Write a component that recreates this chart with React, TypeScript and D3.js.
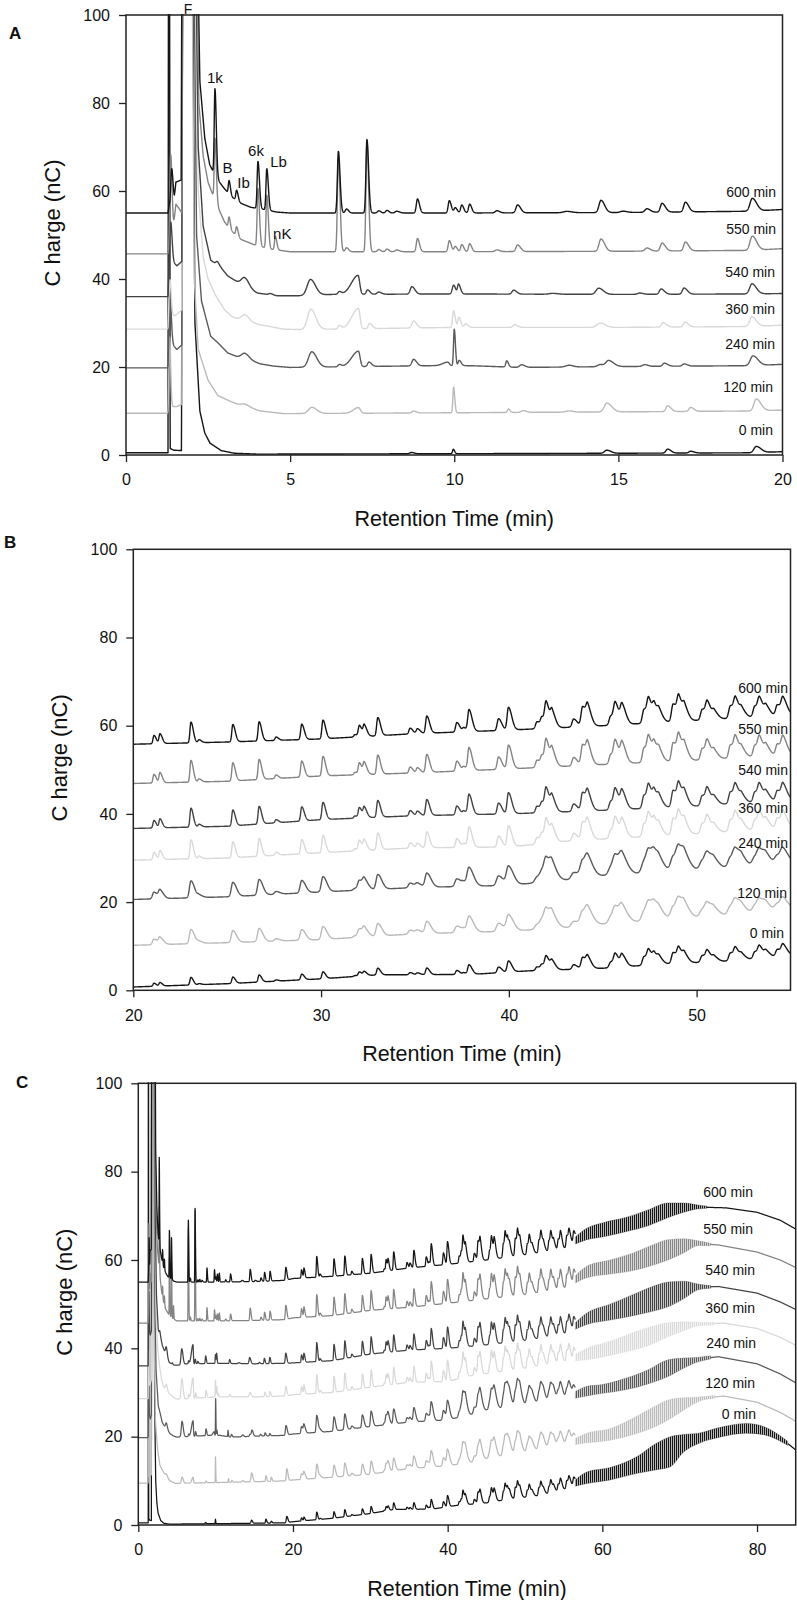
import React, { useEffect, useRef } from 'react';
import * as d3 from 'd3';

// run names (hydrolysis time) and their grey levels
const runNames = ['0 min', '120 min', '240 min', '360 min', '540 min', '550 min', '600 min'];
const runColors = ['#151515', '#bababa', '#5a5a5a', '#d9d9d9', '#424242', '#848484', '#151515'];

// baseline / broad shape of each run: [retention time (min), charge (nC)]
const base0 = [[0, 0.5], [1.28, 0.5], [1.295, 130], [1.325, 130], [1.345, 1.5], [1.45, 1.1], [1.69, 1], [1.73, 130], [2.02, 130], [2.1, 30], [2.25, 10], [2.4, 5], [2.56, 2.7], [2.9, 1.0], [3.3, 0.4], [4, 0.2], [10, 0.3], [15, 0.4], [19, 0.5], [20, 0.75], [25, 1.5], [30, 2.6], [33, 3.5], [38, 3.6], [41, 4.4], [45, 5], [48, 5.9], [52, 6.7], [55, 8], [58, 10.5], [62, 11.5], [66, 14], [68.8, 16.5], [72, 19.6], [75, 21], [78.6, 22], [81, 21.2], [83, 19.8], [85, 17]];
const base120 = [[0, 9.5], [1.28, 9.5], [1.31, 12], [1.42, 11], [1.55, 11], [1.7, 11.5], [1.73, 130], [2.0, 130], [2.08, 40], [2.2, 24], [2.5, 17], [2.8, 13.5], [3.24, 12], [3.6, 11], [4.1, 10], [4.8, 9.4], [10, 9.6], [15, 9.8], [19, 10], [20, 10.2], [25, 10.8], [30, 11.5], [35, 12.8], [40, 13.4], [43, 14.2], [45, 15], [50, 16.5], [55, 18], [58, 19.5], [62, 20.3], [66, 23.5], [68.5, 26], [72, 28.5], [75.7, 29.2], [80, 27.8], [83, 25.5], [85, 23.5]];
const base240 = [[0, 19.8], [1.28, 19.8], [1.31, 24], [1.42, 25], [1.55, 24], [1.7, 25], [1.73, 130], [2.05, 130], [2.15, 50], [2.3, 35], [2.58, 27], [2.8, 25.5], [3.1, 23.2], [3.4, 22.3], [3.9, 21.2], [4.1, 20.7], [4.5, 20.2], [5, 19.9], [9.3, 20.3], [10.5, 20.3], [12, 19.9], [15, 20.1], [19, 20.3], [20, 20.6], [25, 21.2], [30, 22.3], [35, 23.3], [40, 23.8], [43, 25], [45, 26], [50, 27.3], [55, 28.5], [58, 30], [62, 31.3], [66, 33.5], [68.5, 35.5], [72, 37.5], [75, 38.1], [80, 36.5], [83, 34.2], [85, 32.2]];
const base360 = [[0, 28.6], [1.28, 28.6], [1.31, 32], [1.42, 31.4], [1.55, 32], [1.7, 33], [1.73, 130], [2.1, 130], [2.2, 60], [2.35, 45], [2.5, 40], [2.72, 36.4], [3.0, 33], [3.24, 31.4], [3.6, 30.4], [4.1, 29.6], [4.8, 28.6], [5.3, 28.5], [10, 29], [15, 29], [19, 29.2], [20, 29.5], [25, 30], [30, 31.2], [35, 32.3], [40, 32.5], [43, 33.8], [45, 34.3], [50, 35.5], [55, 37], [58, 38.5], [62, 40], [66, 42.8], [68.5, 44.2], [72, 45.5], [75.7, 45.7], [80, 44.5], [83, 42.5], [85, 40.7]];
const base540 = [[0, 36], [1.28, 36], [1.31, 42], [1.42, 44], [1.55, 43], [1.7, 44], [1.73, 130], [2.1, 130], [2.2, 70], [2.35, 52], [2.58, 44.3], [2.9, 42.5], [3.1, 40.7], [3.4, 39.3], [3.8, 37.5], [4.0, 36.8], [4.6, 36.2], [5.3, 36.2], [6.3, 36.5], [10, 36.6], [15, 36.5], [19, 36.6], [20, 36.7], [25, 37.2], [30, 38.7], [35, 39.6], [40, 40], [45, 40.8], [50, 41.8], [55, 43.2], [58, 46.5], [62, 48.5], [66, 51], [68.5, 52], [72, 53.8], [75, 54], [80, 52.5], [83, 50.5], [85, 48.8]];
const base550 = [[0, 45.7], [1.28, 45.7], [1.32, 48], [1.45, 52], [1.52, 57], [1.62, 56], [1.7, 55], [1.73, 130], [2.12, 130], [2.22, 80], [2.35, 68], [2.5, 62], [2.6, 60], [2.85, 55.5], [3.0, 53], [3.2, 51], [3.5, 49], [3.9, 47.8], [4.4, 46.8], [5, 46.2], [10, 46.2], [15, 46.3], [19, 46.5], [20, 46.9], [25, 47.4], [30, 48.6], [35, 49.3], [40, 50.2], [45, 51.2], [50, 52.2], [55, 53.5], [58, 57.2], [62, 58.8], [66, 60.8], [68.5, 62.2], [72, 63.8], [75, 63.4], [80, 61.8], [83, 60], [85, 58.3]];
const base600 = [[0, 55], [1.28, 55], [1.32, 57], [1.47, 58], [1.52, 62], [1.68, 62.5], [1.71, 130], [2.15, 130], [2.25, 85], [2.4, 72], [2.55, 66], [2.65, 64.5], [2.85, 62], [3.0, 60.5], [3.25, 58.5], [3.5, 57.2], [3.8, 56.3], [4.2, 55.8], [4.6, 55.2], [5, 55], [10, 55], [15, 55.1], [19, 55.4], [20, 55.8], [25, 56.3], [30, 57], [35, 58.2], [40, 59], [45, 60], [50, 61.2], [55, 62.5], [58, 65.8], [62, 67.5], [66, 69.5], [68.5, 71.2], [72, 72], [76, 71.8], [80, 70.8], [83, 69], [85, 67]];

// resolved peaks of each run: [time, height above baseline, left width, right width]
const peaks0 = [[8.7, 0.3, 0.05, 0.08], [9.97, 1.0, 0.022, 0.04], [14.65, 0.7, 0.07, 0.12], [16.5, 0.9, 0.05, 0.1], [17.2, 0.4, 0.05, 0.1], [19.2, 1.4, 0.07, 0.14]];
const peaks120 = [[1.33, 15, 0.02, 0.03], [3.62, 0.6, 0.1, 0.15], [5.66, 1.4, 0.1, 0.15], [7.08, 1.3, 0.15, 0.06], [8.76, 0.4, 0.05, 0.09], [9.98, 5.8, 0.022, 0.035], [11.65, 0.8, 0.03, 0.05], [12.1, 0.4, 0.06, 0.1], [13.5, 0.3, 0.1, 0.12], [14.65, 2.0, 0.08, 0.15], [16.5, 1.3, 0.05, 0.1], [17.2, 0.9, 0.05, 0.1], [19.2, 2.7, 0.07, 0.14]];
const peaks240 = [[1.34, 12, 0.025, 0.04], [3.62, 1.3, 0.1, 0.13], [5.66, 3.5, 0.1, 0.15], [6.5, 0.5, 0.04, 0.06], [7.08, 3.5, 0.2, 0.05], [7.4, 1.0, 0.04, 0.08], [8.76, 1.5, 0.05, 0.09], [9.8, 0.8, 0.15, 0.05], [10.0, 8.3, 0.022, 0.035], [10.15, 1.2, 0.03, 0.06], [11.6, 1.4, 0.03, 0.05], [12.05, 0.6, 0.06, 0.1], [13.5, 0.4, 0.1, 0.12], [14.45, 0.5, 0.08, 0.1], [14.7, 1.4, 0.08, 0.15], [15.8, 0.4, 0.06, 0.1], [16.4, 0.7, 0.05, 0.1], [17.0, 0.5, 0.05, 0.1], [19.1, 2.2, 0.08, 0.15]];
const peaks360 = [[1.34, 8, 0.025, 0.04], [3.62, 1.5, 0.1, 0.13], [5.63, 4.6, 0.1, 0.15], [6.5, 0.8, 0.04, 0.06], [7.08, 4.6, 0.2, 0.05], [7.42, 1.2, 0.04, 0.08], [8.76, 1.6, 0.05, 0.09], [9.98, 3.8, 0.03, 0.05], [10.14, 2.3, 0.03, 0.06], [10.35, 0.8, 0.04, 0.07], [11.84, 0.6, 0.05, 0.09], [14.45, 1.0, 0.1, 0.15], [16.36, 1.0, 0.05, 0.1], [17.03, 1.1, 0.05, 0.1], [19.07, 2.2, 0.07, 0.13]];
const peaks540 = [[1.36, 10, 0.025, 0.04], [2.78, 0.8, 0.04, 0.06], [3.62, 2.0, 0.1, 0.13], [4.4, 0.3, 0.05, 0.07], [5.62, 3.6, 0.1, 0.15], [6.5, 0.6, 0.04, 0.06], [7.07, 4.3, 0.2, 0.05], [7.36, 1.0, 0.04, 0.07], [7.7, 0.5, 0.05, 0.08], [8.71, 1.7, 0.05, 0.09], [9.98, 2.0, 0.04, 0.06], [10.13, 2.2, 0.03, 0.06], [11.81, 0.9, 0.05, 0.09], [13.0, 0.2, 0.1, 0.15], [14.4, 1.4, 0.08, 0.14], [15.65, 0.3, 0.06, 0.1], [16.3, 1.2, 0.05, 0.1], [17.0, 1.4, 0.05, 0.1], [19.07, 2.3, 0.07, 0.13]];
const peaks550 = [[1.36, 19, 0.025, 0.04], [2.71, 14, 0.022, 0.04], [3.14, 2.5, 0.022, 0.04], [3.37, 2, 0.025, 0.045], [4.02, 13, 0.025, 0.045], [4.29, 12, 0.025, 0.045], [4.55, 3, 0.025, 0.045], [6.47, 21, 0.03, 0.05], [6.72, 0.9, 0.04, 0.06], [7.34, 25, 0.03, 0.05], [7.7, 0.5, 0.04, 0.06], [7.95, 0.6, 0.04, 0.06], [8.25, 0.4, 0.05, 0.08], [8.88, 3, 0.035, 0.06], [9.85, 2.5, 0.035, 0.06], [10.03, 1.2, 0.035, 0.06], [10.23, 1.6, 0.035, 0.06], [10.47, 1.8, 0.035, 0.06], [11.3, 0.4, 0.05, 0.08], [11.93, 1.5, 0.05, 0.09], [14.47, 2.8, 0.06, 0.11], [15.87, 0.7, 0.06, 0.1], [16.33, 1.8, 0.05, 0.1], [17.04, 2.0, 0.05, 0.1], [19.08, 3.2, 0.07, 0.13]];
const peaks600 = [[1.39, 7.6, 0.025, 0.04], [2.71, 19.5, 0.022, 0.04], [3.14, 3, 0.022, 0.04], [3.37, 2.3, 0.025, 0.045], [4.02, 10.7, 0.025, 0.045], [4.29, 9.4, 0.025, 0.045], [6.47, 14, 0.03, 0.05], [6.72, 0.9, 0.04, 0.06], [7.34, 16.7, 0.03, 0.05], [7.7, 0.5, 0.04, 0.06], [7.95, 0.6, 0.04, 0.06], [8.25, 0.4, 0.05, 0.08], [8.88, 3.2, 0.035, 0.06], [9.85, 2.8, 0.035, 0.06], [10.03, 1.2, 0.035, 0.06], [10.23, 1.8, 0.035, 0.06], [10.47, 2.0, 0.035, 0.06], [11.3, 0.5, 0.05, 0.08], [11.93, 1.8, 0.05, 0.09], [13.43, 0.3, 0.1, 0.15], [14.47, 2.8, 0.06, 0.11], [15.14, 0.3, 0.08, 0.12], [15.87, 0.8, 0.06, 0.1], [16.33, 2.0, 0.05, 0.1], [17.04, 2.2, 0.05, 0.1], [19.08, 2.9, 0.07, 0.13]];

// oligomer ladder seen in every run from 20 min on (heights as read on the 540 min run)
const ladderTimes = [21.1, 21.42, 23.07, 23.5, 25.3, 26.7, 27.6, 28.97, 30.1, 31.8, 32.04, 32.3, 33.02, 34.74, 35.13, 35.63, 37.23, 37.6, 37.88, 39.45, 39.98, 41.5, 41.77, 41.99, 42.3, 43.45, 43.93, 44.2, 45.43, 45.67, 46.03, 47.2, 47.45, 47.75, 48.0, 48.75, 49.05, 49.35, 50.3, 50.57, 50.93, 51.8, 52.07, 52.4, 53.1, 53.35, 53.7, 54.3, 54.6, 55.4, 55.7, 56.3];
const ladderHeights = [1.7, 2.0, 4.3, 0.6, 3.6, 4.0, 0.7, 3.2, 3.9, 0.5, 2.3, 2.2, 3.8, 1.2, 1.0, 3.6, 2.0, 0.8, 4.5, 2.5, 4.8, 1.5, 2.0, 4.8, 3.0, 1.7, 4.2, 3.4, 2.0, 4.0, 3.8, 3.0, 4.2, 3.0, 1.8, 3.8, 4.5, 2.5, 2.3, 3.2, 1.5, 2.7, 3.5, 1.5, 2.3, 3.2, 1.8, 2.3, 3.2, 2.5, 2.8, 2.5];
const ladderWidth = [[20, 0.05], [35, 0.06], [45, 0.085], [58, 0.09]];

// ladder amplitude of each run relative to the 540 min run: [time, factor]
const amp0 = [[20, 0.4], [35, 0.4], [45, 0.65], [58, 0.7]];
const amp120 = [[20, 0.75], [40, 0.75], [58, 0.7]];
const amp240 = [[20, 0.9], [58, 0.85]];
const amp360 = [[20, 1.0], [58, 1.0]];
const amp540 = [[20, 1.0], [58, 1.0]];
const amp550 = [[20, 1.15], [58, 1.1]];
const amp600 = [[20, 1.1], [58, 1.05]];
const widen = [1, 1.5, 1.5, 1, 1, 1, 1];

// unresolved dense region at the end of the gradient: [time, low, high]
const band0 = [[56.5, 8.8, 10.2], [58, 9.4, 12], [61, 10.2, 13], [64.5, 11.7, 15.5], [67, 12.5, 18.5], [68.8, 13.2, 20], [70.5, 16.5, 20.5], [72.5, 18.5, 20.8], [75, 19.8, 22], [78.6, 20.8, 23], [81, 20.4, 22.2], [84, 18, 18.9]];
const band120 = [[56.5, 18.2, 19.6], [58, 18.6, 20.8], [61, 19.2, 21.8], [64, 20.5, 24.2], [66.5, 22, 26.6], [68.5, 23.8, 28.3], [70.5, 26, 28.8], [72.5, 28, 29], [74.5, 28.7, 29.3]];
const band240 = [[56.5, 28.7, 30.2], [58, 29.2, 31.4], [60, 29.8, 31.8], [63, 30.6, 33.2], [66, 32, 35.2], [68.5, 33.6, 37.4], [70.5, 35.5, 37.8], [72.5, 37, 38], [74, 37.6, 38.3]];
const band360 = [[56.5, 37.2, 38.6], [58, 37.4, 40], [61, 38.4, 41.6], [64, 39.6, 43.6], [66.5, 41, 45], [68.5, 42.6, 45.8], [70.5, 44, 46], [72.5, 45.1, 45.9], [74.5, 45.3, 45.9]];
const band540 = [[56.5, 44.3, 45.8], [58, 45.4, 48], [61, 46.4, 50], [64, 47.4, 52.2], [66.5, 48.4, 54], [68.5, 49.4, 55], [70.5, 51.2, 55.2], [72.5, 53.3, 54.5], [74, 53.6, 54.2]];
const band550 = [[56.5, 54.8, 56.4], [58, 56, 58.6], [61, 56.8, 60], [64, 57.6, 61.6], [66.5, 58.8, 63.4], [68.5, 60, 64.6], [70.5, 61.6, 64.8], [72.5, 63.3, 64.3], [74, 63.2, 63.8]];
const band600 = [[56.5, 63.6, 65.2], [58, 64.6, 67.2], [60, 65.2, 68.4], [63, 66.4, 69.6], [66, 67.8, 71.4], [68.5, 69.6, 72.9], [70.5, 70.8, 72.9], [72.5, 71.6, 72.4], [73.5, 71.7, 72.2]];

// peak names in panel A: [time, charge] where the label sits
const peakNames = ['F', '1k', 'B', 'Ib', '6k', 'Lb', 'nK'];
const peakNameTimes = [1.89, 2.71, 3.09, 3.58, 3.96, 4.65, 4.76];
const peakNameCharges = [100.3, 84.6, 64.1, 60.7, 68, 65.5, 49.1];

const yTicks = [0, 20, 40, 60, 80, 100];
const xTicksA = [0, 5, 10, 15, 20];
const xTicksB = [20, 30, 40, 50];
const xTicksC = [0, 20, 40, 60, 80];

const runs = runNames.map((name, i) => ({
  name,
  color: runColors[i],
  base: [base0, base120, base240, base360, base540, base550, base600][i],
  peaks: [peaks0, peaks120, peaks240, peaks360, peaks540, peaks550, peaks600][i],
  amp: [amp0, amp120, amp240, amp360, amp540, amp550, amp600][i],
  band: [band0, band120, band240, band360, band540, band550, band600][i],
  widen: widen[i],
}));

const panels = [
  { letter: 'A', letterXY: [9, 39], left: 126, right: 782.5, top: 15, bottom: 455, domain: [0, 20], ticks: xTicksA, step: 0.004, lw: 1.4, band: false,
    labelX: [773, 773, 775, 775, 775, 776, 776], labelY: [435, 391.5, 349, 314, 277, 233.5, 196.5] },
  { letter: 'B', letterXY: [4, 548], left: 133.3, right: 790.5, top: 549.3, bottom: 990.3, domain: [20, 55], ticks: xTicksB, step: 0.008, lw: 1.4, band: false,
    labelX: [784, 787, 788, 788, 788, 788, 788], labelY: [937.5, 898, 848, 813, 775, 734, 693] },
  { letter: 'C', letterXY: [16, 1088], left: 138.3, right: 795.7, top: 1083.3, bottom: 1525, domain: [0, 85], ticks: xTicksC, step: 0.008, lw: 1.25, band: true,
    labelX: [756, 755, 756, 755, 755, 753, 753], labelY: [1419, 1388, 1348, 1313, 1275, 1234, 1197] },
];

const FONT = '"Liberation Sans", Arial, Helvetica, sans-serif';

function trace(run: any, t0: number, t1: number, step: number) {
  const base = d3.scaleLinear().domain(run.base.map((d: number[]) => d[0])).range(run.base.map((d: number[]) => d[1])).clamp(true);
  const amp = d3.scaleLinear().domain(run.amp.map((d: number[]) => d[0])).range(run.amp.map((d: number[]) => d[1])).clamp(true);
  const lw = d3.scaleLinear().domain(ladderWidth.map(d => d[0])).range(ladderWidth.map(d => d[1])).clamp(true);
  const ladder = ladderTimes.map((t, i) => [t, ladderHeights[i] * amp(t), lw(t) * run.widen, lw(t) * run.widen * 2.4]);
  const peaks = [...run.peaks, ...ladder];
  const ts = d3.range(t0, t1 + step / 2, step)
    .concat(peaks.map((p: number[]) => p[0]).filter((t: number) => t >= t0 && t <= t1))
    .sort(d3.ascending);
  return ts.map((t: number) => {
    let v = base(t);
    for (const [pt, h, wl, wr] of peaks) {
      const dt = t - pt;
      const w = dt < 0 ? wl : wr;
      if (Math.abs(dt) > 6 * w) continue;
      v += h * Math.exp(-0.5 * (dt / w) * (dt / w));
    }
    return [t, v];
  });
}

const App = () => {
  const svgRef = useRef<SVGSVGElement>(null);

  useEffect(() => {
    document.body.style.margin = '0';
    const svg = d3.select(svgRef.current);
    svg.selectAll('*').remove();
    const defs = svg.append('defs');

    // vertical hatching used for the unresolved, densely oscillating region
    runs.forEach((run, i) => {
      const pat = defs.append('pattern').attr('id', `hatch-${i}`)
        .attr('patternUnits', 'userSpaceOnUse').attr('width', 2).attr('height', 20);
      pat.append('rect').attr('x', 0).attr('y', 0).attr('width', 1.3).attr('height', 20).attr('fill', run.color);
    });

    panels.forEach((p, pi) => {
      const x = d3.scaleLinear().domain(p.domain).range([p.left, p.right]);
      const y = d3.scaleLinear().domain([0, 100]).range([p.bottom, p.top]);
      const g = svg.append('g');

      const clipId = `plot-clip-${pi}`;
      defs.append('clipPath').attr('id', clipId).append('rect')
        .attr('x', p.left).attr('y', p.top - 1)
        .attr('width', p.right - p.left).attr('height', p.bottom - p.top + 1);

      const plot = g.append('g').attr('clip-path', `url(#${clipId})`);
      const area = d3.area<number[]>().x(d => x(d[0])).y0(d => y(d[1])).y1(d => y(d[2])).curve(d3.curveMonotoneX);

      runs.forEach((run, i) => {
        const b0 = run.band[0][0];
        const b1 = run.band[run.band.length - 1][0];
        const outside = (t: number) => !p.band || t <= b0 || t >= b1;
        const line = d3.line<number[]>().defined(d => outside(d[0])).x(d => x(d[0])).y(d => y(d[1]));
        if (p.band) {
          plot.append('path').datum(run.band).attr('d', area)
            .attr('fill', `url(#hatch-${i})`).attr('stroke', run.color).attr('stroke-width', 0.5).attr('stroke-opacity', 0.6);
        }
        plot.append('path').datum(trace(run, p.domain[0], p.domain[1], p.step))
          .attr('d', line)
          .attr('fill', 'none')
          .attr('stroke', run.color)
          .attr('stroke-width', p.lw)
          .attr('stroke-linejoin', 'round');
      });

      // frame
      g.append('rect')
        .attr('x', p.left).attr('y', p.top)
        .attr('width', p.right - p.left).attr('height', p.bottom - p.top)
        .attr('fill', 'none').attr('stroke', '#222').attr('stroke-width', 1.5);

      // axes
      const xAxis = g.append('g').attr('transform', `translate(0,${p.bottom})`)
        .call(d3.axisBottom(x).tickValues(p.ticks).tickSize(7).tickSizeOuter(0).tickPadding(12).tickFormat(d3.format('d')));
      const yAxis = g.append('g').attr('transform', `translate(${p.left},0)`)
        .call(d3.axisLeft(y).tickValues(yTicks).tickSize(7).tickSizeOuter(0).tickPadding(9));
      [xAxis, yAxis].forEach(a => {
        a.select('.domain').remove();
        a.selectAll('line').attr('stroke', '#222').attr('stroke-width', 1.3);
        a.selectAll('text').attr('font-family', FONT).attr('font-size', 16).attr('fill', '#111');
      });

      // axis titles
      g.append('text')
        .attr('x', (p.left + p.right) / 2).attr('y', p.bottom + 71)
        .attr('text-anchor', 'middle').attr('font-family', FONT).attr('font-size', 21.5).attr('fill', '#111')
        .text('Retention Time (min)');
      g.append('text')
        .attr('transform', `translate(${p.left - 66},${(p.top + p.bottom) / 2 - 12}) rotate(-90)`)
        .attr('text-anchor', 'middle').attr('font-family', FONT).attr('font-size', 22).attr('fill', '#111')
        .text('C harge (nC)');

      // panel letter
      g.append('text')
        .attr('x', p.letterXY[0]).attr('y', p.letterXY[1])
        .attr('font-family', FONT).attr('font-size', 17).attr('font-weight', 'bold').attr('fill', '#111')
        .text(p.letter);

      // run labels
      runs.forEach((run, i) => {
        g.append('text')
          .attr('x', p.labelX[i]).attr('y', p.labelY[i])
          .attr('text-anchor', 'end').attr('font-family', FONT).attr('font-size', 14).attr('fill', '#111')
          .text(run.name);
      });

      // peak names (panel A only)
      if (p.letter === 'A') {
        peakNames.forEach((n, i) => {
          g.append('text')
            .attr('x', x(peakNameTimes[i])).attr('y', y(peakNameCharges[i]))
            .attr('text-anchor', 'middle').attr('font-family', FONT).attr('font-size', i === 0 ? 14 : 15).attr('fill', '#111')
            .text(n);
        });
      }
    });
  }, []);

  return <svg ref={svgRef} width={797} height={1600} style={{ display: 'block', background: 'white' }} />;
};

export default App;
